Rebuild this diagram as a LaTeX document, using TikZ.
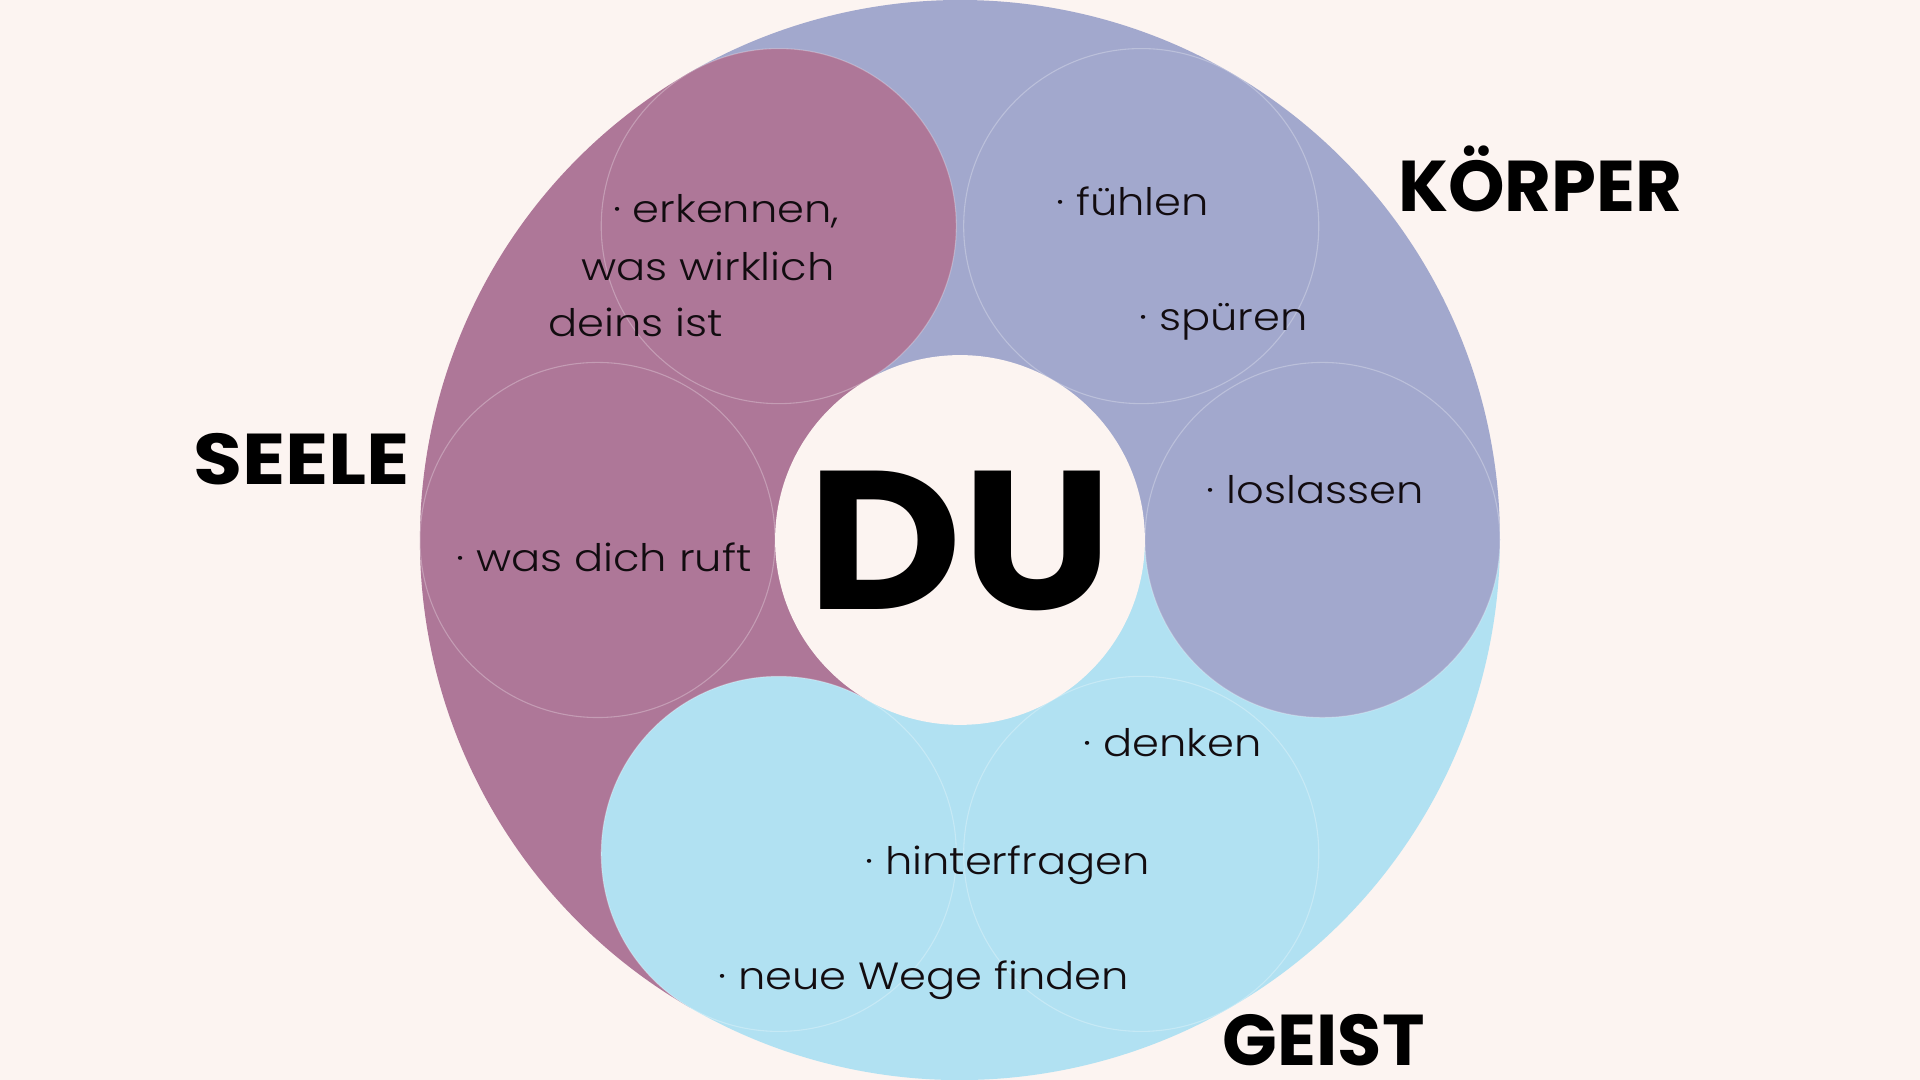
\documentclass[tikz,border=0pt]{standalone}
\usepackage{fontspec}
\usepackage{graphicx}
\usetikzlibrary{calc}
\IfFontExistsTF{Poppins Light}{\newfontfamily\itemfont{Poppins Light}[FakeStretch=1.14]}{\newfontfamily\itemfont{Poppins}[FakeStretch=1.1]}
\newfontfamily\labelfont{Poppins}
\definecolor{bg}{HTML}{FCF4F1}
\definecolor{seele}{HTML}{AE7798}
\definecolor{koerper}{HTML}{A2A8CD}
\definecolor{geist}{HTML}{B1E1F2}
\definecolor{ink}{HTML}{120C10}
\tikzset{
  itemtext/.style={anchor=base west, inner sep=0pt, text=ink, font=\itemfont\fontsize{8.8pt}{10pt}\selectfont},
  labeltext/.style={anchor=base west, inner sep=0pt, text=black, font=\labelfont\bfseries\fontsize{16.7pt}{18pt}\selectfont},
  ring/.style={draw=white, draw opacity=0.28, line width=0.25pt}
}
\begin{document}
\begin{tikzpicture}[x=0.01cm,y=0.01cm]
\fill[bg] (0,0) rectangle (1568,882);
\useasboundingbox (0,0) rectangle (1568,882);
\coordinate (C) at (784,441);
% sectors of the big circle
\fill[koerper] (C) -- ++(0:441) arc[start angle=0,end angle=120,radius=441] -- cycle;
\fill[seele] (C) -- ++(120:441) arc[start angle=120,end angle=240,radius=441] -- cycle;
\fill[geist] (C) -- ++(240:441) arc[start angle=240,end angle=360,radius=441] -- cycle;
% small circles
\coordinate (c0) at ($(C)+(0:296)$);
\coordinate (c60) at ($(C)+(60:296)$);
\coordinate (c120) at ($(C)+(120:296)$);
\coordinate (c180) at ($(C)+(180:296)$);
\coordinate (c240) at ($(C)+(240:296)$);
\coordinate (c300) at ($(C)+(300:296)$);
\fill[koerper] (c0) circle[radius=145];
\fill[koerper] (c60) circle[radius=145];
\fill[seele] (c120) circle[radius=145];
\fill[seele] (c180) circle[radius=145];
\fill[geist] (c240) circle[radius=145];
\fill[geist] (c300) circle[radius=145];
\foreach \c in {c0,c60,c120,c180,c240,c300}{\draw[ring] (\c) circle[radius=145];}
% centre
\fill[bg] (C) circle[radius=151];
\node[anchor=base, inner sep=0pt, font=\labelfont\bfseries\fontsize{45.8pt}{50pt}\selectfont] (du) at (784,384) {\scalebox{1.08}[1]{DU}};
% labels
\node[labeltext] (koerperlabel) at (1141,709) {KÖRPER};
\node[labeltext] (seelelabel) at (157,486) {\scalebox{1.11}[1]{SEELE}};
\node[labeltext] (geistlabel) at (998,12) {GEIST};
% items
\node[itemtext] (erk1) at (500,700) {· erkennen,};
\node[itemtext] (erk2) at (474,653) {was wirklich};
\node[itemtext] (erk3) at (447,607) {deins ist};
\node[itemtext] (fuehlen) at (862,706) {· fühlen};
\node[itemtext] (spueren) at (930,612) {· spüren};
\node[itemtext] (loslassen) at (985,471) {· loslassen};
\node[itemtext] (ruft) at (372,415) {· was dich ruft};
\node[itemtext] (denken) at (884,264) {· denken};
\node[itemtext] (hinter) at (706,168) {· hinterfragen};
\node[itemtext] (wege) at (586,74) {· neue Wege finden};
\end{tikzpicture}
\end{document}
